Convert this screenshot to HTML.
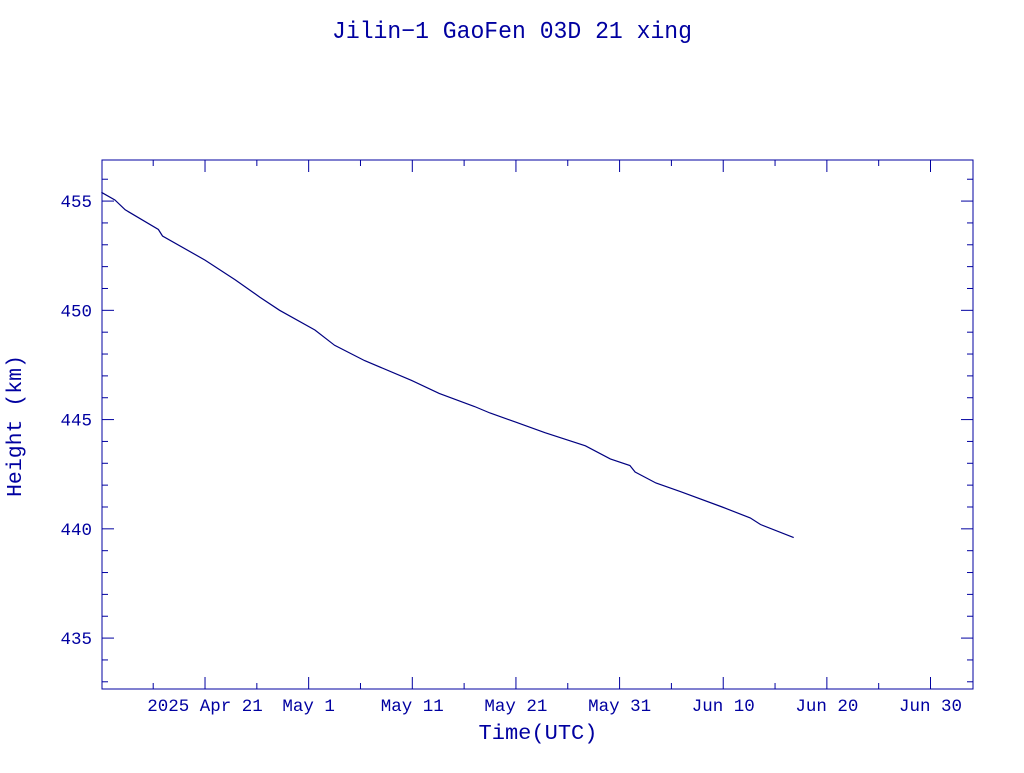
<!DOCTYPE html>
<html><head><meta charset="utf-8"><style>
html,body{margin:0;padding:0;background:#fff;}
svg text{font-family:"Liberation Mono",monospace;fill:#0000a0;}
</style></head><body>
<svg id="chart" width="1024" height="768" xmlns="http://www.w3.org/2000/svg">
<text x="512" y="38" text-anchor="middle" font-size="24" textLength="360" lengthAdjust="spacingAndGlyphs">Jilin−1 GaoFen 03D 21 xing</text>
<rect x="102" y="160" width="871" height="529" fill="none" stroke="#0000a0" stroke-width="1"/>
<g id="axes"></g>
<path id="line" fill="none" stroke="#000080" stroke-width="1.2"/>
<text x="538" y="739" text-anchor="middle" font-size="21" textLength="119" lengthAdjust="spacingAndGlyphs">Time(UTC)</text>
<text transform="translate(21,426) rotate(-90)" text-anchor="middle" font-size="21" textLength="142" lengthAdjust="spacingAndGlyphs">Height (km)</text>
</svg>
<script>
// days since 2025 Apr 21
const days=[-10,-8.7,-7.7,-4.5,-4.1,0,2.9,5.3,7.2,10.6,12.5,15.4,19.9,22.6,26,27.5,29.9,32.8,36.7,39.1,41,41.5,43.5,45.9,49.9,52.6,53.6,56.8];
const heights=[455.4,455.05,454.6,453.7,453.4,452.3,451.4,450.6,450,449.1,448.4,447.7,446.8,446.2,445.6,445.3,444.9,444.4,443.8,443.2,442.9,442.6,442.1,441.7,441.0,440.5,440.2,439.6];
const yTicks=[435,440,445,450,455];
const xTickDays=[0,10,20,30,40,50,60,70];
const xTickLabels=["2025 Apr 21","May  1","May 11","May 21","May 31","Jun 10","Jun 20","Jun 30"];
const X0=102,X1=973,Y0=160,Y1=689;
const dMin=-9.94,dMax=74.1,hMin=432.67,hMax=456.88;
const xs=d=>X0+(d-dMin)/(dMax-dMin)*(X1-X0);
const ys=h=>Y1-(h-hMin)/(hMax-hMin)*(Y1-Y0);
const NS="http://www.w3.org/2000/svg";
const ax=document.getElementById('axes');
function ln(x1,y1,x2,y2,name){const l=document.createElementNS(NS,'line');
l.setAttribute('x1',x1);l.setAttribute('y1',y1);l.setAttribute('x2',x2);l.setAttribute('y2',y2);
l.setAttribute('stroke','#0000a0');


ax.appendChild(l);}
function tx(x,y,s,anchor,name){const t=document.createElementNS(NS,'text');
t.setAttribute('x',x);t.setAttribute('y',y);t.setAttribute('text-anchor',anchor);t.setAttribute('font-size','17.5');
t.textContent=s;t.setAttribute('xml:space','preserve');


ax.appendChild(t);}
for(let h=433;h<=456;h++){const y=ys(h);const major=h%5===0;const L=major?12:6;
ln(X0,y,X0+L,y,'y-tick');ln(X1,y,X1-L,y,'y-tick');}
yTicks.forEach(h=>tx(92,ys(h)+6,String(h),'end','y-tick-label'));
for(let d=-5;d<=74;d+=5){const x=xs(d);const major=d%10===0;const L=major?12:6;
ln(x,Y1,x,Y1-L,'x-tick');ln(x,Y0,x,Y0+L,'x-tick');}
xTickDays.forEach((d,i)=>tx(xs(d),711,xTickLabels[i],'middle','x-tick-label'));
document.getElementById('line').setAttribute('d',days.map((d,i)=>(i?'L':'M')+xs(d).toFixed(1)+','+ys(heights[i]).toFixed(1)).join(''));
</script>
</body></html>
